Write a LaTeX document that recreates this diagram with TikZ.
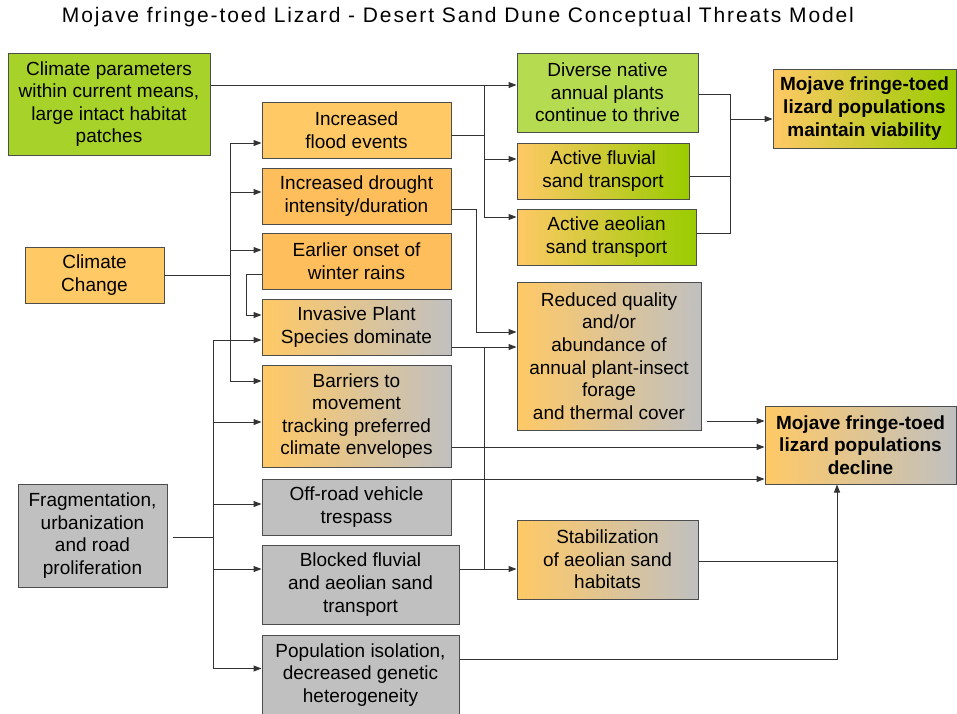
\documentclass[tikz,border=0pt]{standalone}
\usepackage{fontspec}
\setmainfont{Liberation Sans}
\usetikzlibrary{arrows.meta}

\definecolor{linegrey}{HTML}{333333}
\definecolor{boxline}{HTML}{4D4D4D}
\definecolor{orangeA}{HTML}{FFC966}
\definecolor{orangeB}{HTML}{FFBE5C}
\definecolor{greyA}{HTML}{C0C0C0}
\definecolor{greenA}{HTML}{A6D22A}
\definecolor{greenB}{HTML}{B5DC50}
\definecolor{greenC}{HTML}{99CC00}

\begin{document}
\begin{tikzpicture}[x=1pt,y=-1pt,
    box/.style={draw=boxline, line width=1pt, inner sep=0pt, align=center,
      font=\fontsize{19}{22.6}\selectfont},
    outcome/.style={box, font=\fontsize{19}{22.6}\selectfont\bfseries},
    conn/.style={draw=linegrey, line width=1pt},
    arr/.style={conn, -{Triangle[length=8pt,width=6pt]}}]
  \useasboundingbox (0,0) rectangle (957,713);

  % title
  \node (title) at (458,17) {\fontsize{21}{24}\selectfont\addfontfeature{LetterSpace=9}Mojave fringe-toed Lizard - Desert Sand Dune Conceptual Threats Model};

  % drivers
  \node[box, fill=greenA, minimum width=202, minimum height=102] (cp) at (109,104)
    {Climate parameters\\within current means,\\large intact habitat\\patches};
  \node[box, fill=orangeA, minimum width=139, minimum height=56] (cc) at (94.5,275) {Climate\\Change};
  \node[box, fill=greyA, minimum width=149, minimum height=103] (frag) at (92.5,535.5)
    {Fragmentation,\\urbanization\\and road\\proliferation};

  % pressures
  \node[box, fill=orangeA, minimum width=189, minimum height=56] (flood) at (356.5,130) {Increased\\flood events};
  \node[box, fill=orangeB, minimum width=189, minimum height=56] (drought) at (356.5,196) {Increased drought\\intensity/duration};
  \node[box, fill=orangeB, minimum width=189, minimum height=56] (earlier) at (356.5,261) {Earlier onset of\\winter rains};
  \node[box, left color=orangeA, right color=greyA, minimum width=189, minimum height=56] (invasive) at (356.5,327)
    {Invasive Plant\\Species dominate};
  \node[box, left color=orangeA, right color=greyA, minimum width=189, minimum height=102] (barriers) at (356.5,416)
    {Barriers to\\movement\\tracking preferred\\climate envelopes};
  \node[box, fill=greyA, minimum width=189, minimum height=56] (offroad) at (356.5,507) {Off-road vehicle\\trespass};
  \node[box, fill=greyA, minimum width=197, minimum height=79] (blocked) at (360.5,584.5)
    {Blocked fluvial\\and aeolian sand\\transport};
  \node[box, fill=greyA, minimum width=197, minimum height=80] (popiso) at (360.5,675)
    {Population isolation,\\decreased genetic\\heterogeneity};

  % habitat responses
  \node[box, fill=greenB, minimum width=181, minimum height=79] (diverse) at (607.5,92.5)
    {Diverse native\\annual plants\\continue to thrive};
  \node[box, left color=orangeA, right color=greenC, minimum width=172, minimum height=56] (fluvial) at (603,171)
    {Active fluvial\\sand transport};
  \node[box, left color=orangeA, right color=greenC, minimum width=179, minimum height=56] (aeolian) at (606.5,237)
    {Active aeolian\\sand transport};
  \node[box, left color=orangeA, right color=greyA, minimum width=184, minimum height=148] (reduced) at (609,356)
    {Reduced quality\\and/or\\abundance of\\annual plant-insect\\forage\\and thermal cover};
  \node[box, left color=orangeA, right color=greyA, minimum width=181, minimum height=79] (stab) at (607.5,559.5)
    {Stabilization\\of aeolian sand\\habitats};

  % outcomes
  \node[outcome, left color=orangeA, right color=greenC, minimum width=183, minimum height=79] (viab) at (864.5,108.5)
    {Mojave fringe-toed\\lizard populations\\maintain viability};
  \node[outcome, left color=orangeA, right color=greyA, minimum width=191, minimum height=78] (decline) at (860.5,445)
    {Mojave fringe-toed\\lizard populations\\decline};

  % climate parameters and floods to the thriving boxes
  \coordinate (ja) at (484,85);
  \coordinate (jb) at (484,217);
  \draw[arr] ([yshift=19pt]cp.east) -- ([yshift=7.5pt]diverse.west);
  \draw[conn] ([yshift=-5pt]flood.east) -- ++(33,0);
  \draw[conn] (ja) -- (jb);
  \coordinate (tfl) at ([yshift=12pt]fluvial.west);
  \draw[arr] (ja |- tfl) -- (tfl);
  \draw[arr] (jb) -- ([yshift=20pt]aeolian.west);

  % thriving boxes to viability
  \draw[conn] ([yshift=-1.5pt]diverse.east) -- ++(32,0) |- ([yshift=4pt]aeolian.east);
  \draw[conn] ([yshift=-5pt]fluvial.east) -- ++(41,0);
  \draw[arr] ([xshift=-43pt,yshift=-10.5pt]viab.west) -- ([yshift=-10.5pt]viab.west);

  % climate change bus
  \coordinate (jc) at (230,275);
  \coordinate (t1) at ([yshift=-13pt]flood.west);
  \coordinate (t2) at ([yshift=4pt]drought.west);
  \coordinate (t3) at ([yshift=11pt]earlier.west);
  \coordinate (t4) at ([yshift=35pt]barriers.west);
  \draw[conn] (cc.east) -- (jc);
  \draw[conn] (jc |- t1) -- (jc |- t4);
  \foreach \t in {t1,t2,t3,t4}
    \draw[arr] (jc |- \t) -- (\t);
  \draw[arr] ([yshift=-13pt]earlier.west) -- ++(-15,0) |- ([yshift=12pt]invasive.west);

  % fragmentation bus
  \coordinate (jd) at (213,537);
  \coordinate (u1) at ([yshift=-13pt]invasive.west);
  \coordinate (u2) at ([yshift=-6pt]barriers.west);
  \coordinate (u3) at ([yshift=3pt]offroad.west);
  \coordinate (u4) at ([yshift=15.5pt]blocked.west);
  \coordinate (u5) at ([yshift=6.5pt]popiso.west);
  \draw[conn] ([xshift=5pt,yshift=-1.5pt]frag.east) -- (jd);
  \draw[conn] (jd |- u1) -- (jd |- u5);
  \foreach \u in {u1,u2,u3,u4,u5}
    \draw[arr] (jd |- \u) -- (\u);

  % to reduced forage and stabilization
  \coordinate (je) at (484,347);
  \coordinate (jf) at (484,569);
  \draw[arr] ([yshift=-13pt]drought.east) -- ++(25,0) |- ([yshift=24pt]reduced.west);
  \draw[arr] ([yshift=-20pt]invasive.east) -- ([yshift=9pt]reduced.west);
  \draw[conn] (je) -- (jf);
  \draw[arr] ([yshift=15.5pt]blocked.east) -- ([yshift=-9.5pt]stab.west);

  % to decline
  \draw[arr] ([xshift=5pt,yshift=-65pt]reduced.east) -- ([yshift=24pt]decline.west);
  \draw[arr] ([yshift=-31pt]barriers.east) -- ([yshift=-2pt]decline.west);
  \draw[arr] ([yshift=28pt]offroad.east) -- ([yshift=-34pt]decline.west);
  \draw[conn] ([yshift=-1.5pt]stab.east) -- ++(139,0);
  \draw[arr] ([yshift=15.5pt]popiso.east) -| ([xshift=-23.5pt]decline.south);
\end{tikzpicture}
\end{document}
